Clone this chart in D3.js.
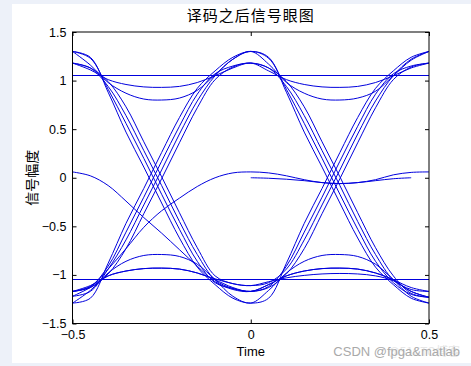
<!DOCTYPE html>
<html><head><meta charset="utf-8">
<script src="https://cdn.jsdelivr.net/npm/d3@7/dist/d3.min.js"></script>
<style>body{margin:0;background:#edf1f9}svg{display:block}</style>
</head><body><svg id="c" width="471" height="366"></svg>
<script>
// ---- data ----
const title = "译码之后信号眼图";
const xLabel = "Time";
const yLabel = "信号幅度";
const xTicks = [-0.5, 0, 0.5];
const yTicks = [-1.5, -1, -0.5, 0, 0.5, 1, 1.5];
const xGrid = [-0.5,-0.45,-0.4,-0.35,-0.3,-0.25,-0.2,-0.15,-0.1,-0.05,0,0.05,0.1,0.15,0.2,0.25,0.3,0.35,0.4,0.45,0.5];
const levelHigh = 1.053;
const levelLow = -1.046;
const trace01 = [1.30,1.16,0.98,0.87,0.81,0.80,0.82,0.90,1.06,1.22,1.30,1.17,0.98,0.87,0.81,0.80,0.82,0.89,1.05,1.21,1.30];
const trace02 = [1.18,1.11,1.01,0.96,0.935,0.93,0.94,0.98,1.05,1.13,1.18,1.10,1.01,0.96,0.935,0.93,0.94,0.98,1.05,1.13,1.18];
const trace03 = [-1.29,-1.24,-0.88,-0.47,-0.11,0.26,0.62,0.92,1.10,1.24,1.30,1.24,0.88,0.47,0.11,-0.26,-0.62,-0.92,-1.10,-1.24,-1.29];
const trace04 = [-1.22,-1.17,-0.94,-0.64,-0.28,0.08,0.45,0.79,1.05,1.22,1.30,1.23,0.91,0.56,0.20,-0.17,-0.53,-0.86,-1.08,-1.20,-1.23];
const trace05 = [-1.17,-1.12,-0.91,-0.56,-0.20,0.17,0.53,0.86,1.07,1.15,1.18,1.13,0.94,0.64,0.28,-0.08,-0.45,-0.79,-1.05,-1.15,-1.17];
const trace06 = [-1.17,-1.13,-0.99,-0.73,-0.37,-0.01,0.36,0.72,1.01,1.14,1.18,1.13,0.99,0.73,0.37,0.01,-0.36,-0.72,-1.01,-1.19,-1.23];
const trace07 = [-1.29,-1.16,-0.98,-0.86,-0.80,-0.79,-0.81,-0.89,-1.05,-1.22,-1.29,-1.16,-0.98,-0.86,-0.80,-0.79,-0.81,-0.89,-1.05,-1.22,-1.29];
const trace08 = [1.30,1.24,0.88,0.47,0.11,-0.26,-0.62,-0.92,-1.10,-1.24,-1.29,-1.24,-0.88,-0.47,-0.11,0.26,0.62,0.92,1.10,1.24,1.30];
const trace09 = [-1.17,-1.11,-1.01,-0.96,-0.935,-0.93,-0.94,-0.98,-1.05,-1.13,-1.17,-1.10,-1.01,-0.96,-0.935,-0.93,-0.94,-0.98,-1.05,-1.13,-1.17];
const trace10 = [1.30,1.23,0.91,0.56,0.20,-0.17,-0.53,-0.86,-1.08,-1.14,-1.17,-1.12,-0.91,-0.56,-0.20,0.17,0.53,0.86,1.07,1.15,1.18];
const trace11 = [1.18,1.13,0.94,0.64,0.28,-0.08,-0.45,-0.79,-1.05,-1.14,-1.17,-1.13,-0.99,-0.73,-0.37,-0.01,0.36,0.72,1.01,1.14,1.18];
const trace12 = [0.06,0.02,-0.08,-0.24,-0.41,-0.57,-0.74,-0.91,-1.07,-1.15,-1.17,-1.10,-1.01,-0.96,-0.935,-0.93,-0.94,-0.98,-1.05,-1.17,-1.23];
const trace13 = [-1.22,-1.13,-1.01,-0.96,-0.935,-0.93,-0.94,-0.98,-1.04,-1.09,-1.11,-1.07,-1.03,-1.005,-0.99,-0.985,-0.99,-1.01,-1.06,-1.17,-1.23];
const trace14 = [1.18,1.13,0.99,0.73,0.37,0.01,-0.36,-0.72,-1.01,-1.09,-1.11,-1.08,-0.94,-0.64,-0.28,0.08,0.45,0.79,1.05,1.22,1.30];
const trace15 = [-1.17,-1.12,-0.94,-0.73,-0.51,-0.34,-0.21,-0.09,0.00,0.05,0.06,0.05,0.02,-0.02,-0.05,-0.06,-0.05,-0.03,-0.01,0.0,null];
const trace16 = [null,null,null,null,null,null,null,null,null,null,0.0,-0.005,-0.015,-0.03,-0.05,-0.06,-0.05,-0.02,0.03,0.055,0.06];
const traces = [trace01,trace02,trace03,trace04,trace05,trace06,trace07,trace08,trace09,trace10,trace11,trace12,trace13,trace14,trace15,trace16];
const watermark = "CSDN @fpga&matlab";
const watermark2 = "@51CTO博客";

// ---- drawing ----
const svg = d3.select("#c");
const L = 72.5, R = 429, T = 32, B = 323.5;
const x = d3.scaleLinear().domain([-0.5, 0.5]).range([L, R]);
const y = d3.scaleLinear().domain([-1.5, 1.5]).range([B, T]);
const latin = "Arial, 'Liberation Sans', Helvetica, sans-serif";
const cjk = "'Noto Sans CJK SC', 'Noto Sans', sans-serif";

svg.append("rect").attr("x", 12).attr("y", 4).attr("width", 459).attr("height", 359).attr("fill", "#fff");

const clip = svg.append("defs").append("clipPath").attr("id", "pc");
clip.append("rect").attr("x", L).attr("y", T).attr("width", R - L).attr("height", B - T);

const plot = svg.append("g").attr("clip-path", "url(#pc)");
const line = d3.line()
  .defined(d => d[1] !== null)
  .x(d => x(d[0])).y(d => y(d[1]))
  .curve(d3.curveCatmullRom.alpha(0.5));

const stroke = "#0000dd";
traces.forEach(tr => {
  plot.append("path")
    .attr("d", line(xGrid.map((xv, i) => [xv, tr[i]])))
    .attr("fill", "none").attr("stroke", stroke).attr("stroke-width", 1);
});
[levelHigh, levelLow].forEach(v => {
  plot.append("path")
    .attr("d", d3.line().x(d => x(d)).y(() => y(v))([-0.5, 0.5]))
    .attr("fill", "none").attr("stroke", stroke).attr("stroke-width", 1)
    .attr("shape-rendering", "crispEdges");
});

// axes (MATLAB style: inward ticks on all sides)
const tl = 4;
svg.append("g").attr("transform", `translate(0,${B})`)
  .call(d3.axisBottom(x).tickValues(xTicks).tickSize(-tl).tickPadding(7).tickFormat(d3.format("")))
  .call(g => g.select(".domain").remove());
svg.append("g").attr("transform", `translate(0,${T})`)
  .call(d3.axisTop(x).tickValues(xTicks).tickSize(-tl).tickFormat(""))
  .call(g => g.select(".domain").remove());
svg.append("g").attr("transform", `translate(${L},0)`)
  .call(d3.axisLeft(y).tickValues(yTicks).tickSize(-tl).tickPadding(6).tickFormat(d3.format("")))
  .call(g => g.select(".domain").remove());
svg.append("g").attr("transform", `translate(${R},0)`)
  .call(d3.axisRight(y).tickValues(yTicks).tickSize(-tl).tickFormat(""))
  .call(g => g.select(".domain").remove());
svg.selectAll(".tick line").attr("stroke", "#000");
svg.selectAll(".tick text").attr("font-family", latin).attr("font-size", 12.5).attr("fill", "#000");

svg.append("rect").attr("x", L).attr("y", T).attr("width", R - L).attr("height", B - T)
  .attr("fill", "none").attr("stroke", "#000").attr("stroke-width", 1);

svg.append("text").attr("x", (L + R) / 2).attr("y", 21).attr("text-anchor", "middle")
  .attr("font-family", cjk).attr("font-size", 15).attr("letter-spacing", 1).text(title);
svg.append("text").attr("x", (L + R) / 2).attr("y", 356).attr("text-anchor", "middle")
  .attr("font-family", latin).attr("font-size", 13).text(xLabel);
svg.append("text").attr("transform", `translate(37,${(T + B) / 2}) rotate(-90)`).attr("text-anchor", "middle")
  .attr("font-family", cjk).attr("font-size", 14).text(yLabel);

svg.append("text").attr("x", 460).attr("y", 356).attr("text-anchor", "end")
  .attr("font-family", cjk).attr("font-size", 12).attr("fill", "#e6e6e6").text(watermark2);
svg.append("text").attr("x", 460).attr("y", 355.5).attr("text-anchor", "end")
  .attr("font-family", latin).attr("font-size", 13).attr("fill", "#a9a9a9").text(watermark);
</script></body></html>
